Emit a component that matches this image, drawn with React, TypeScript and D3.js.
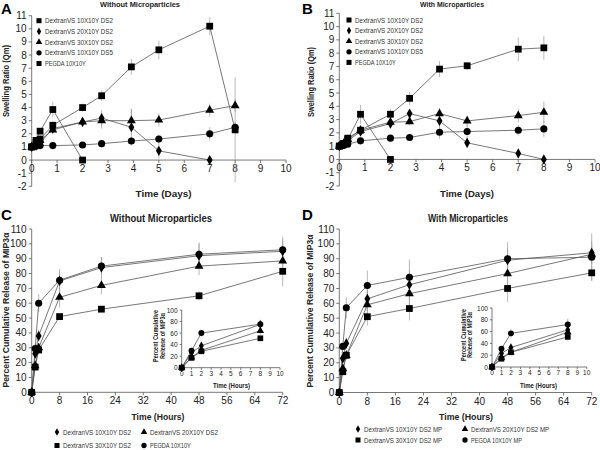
import React from "react";
import * as d3 from "d3";

// ---- swelling data (days) ----
const days = [0, 0.17, 0.33, 0.83, 2, 2.75, 3.92, 5, 7, 8];
const daysPeg = [0, 0.17, 0.33, 0.83, 2];

const swellLegend = [
  "DextranVS 10X10Y DS2",
  "DextranVS 20X10Y DS2",
  "DextranVS 30X10Y DS2",
  "DextranVS 10X10Y DS5",
  "PEGDA 10X10Y",
];

// panel A - without microparticles
const aDs2x10 = [1, 1.3, 1.6, 2.65, 4, 4.9, 7.1, 8.4, 10.2, 2.3];
const aDs2x10Err = [0, 0.1, 0.2, 0.3, 0.3, 0.4, 0.6, 0.7, 0.7, 4];
const aDs2x20 = [1, 1.1, 1.3, 2.4, 2.9, 3.2, 2.5, 0.7, 0];
const aDs2x20Err = [0, 0.1, 0.1, 0.3, 0.4, 0.6, 1.4, 0.6, 0];
const aDs2x30 = [1, 1.2, 1.5, 2.3, 2.9, 3, 3, 3.05, 3.8, 4.15];
const aDs2x30Err = [0, 0.1, 0.1, 0.3, 0.3, 0.6, 0.9, 0.5, 0.5, 0.5];
const aDs5x10 = [1, 1.05, 1.1, 1.1, 1.15, 1.25, 1.45, 1.6, 2, 2.5];
const aDs5x10Err = [0, 0, 0.1, 0.1, 0.1, 0.1, 0.2, 0.3, 0.5, 0.4];
const aPeg = [1, 1.5, 2.2, 3.85, 0];
const aPegErr = [0, 0.1, 0.2, 0.6, 0];

// panel B - with microparticles
const bDs2x10 = [1, 1.2, 1.6, 2.2, 3.4, 4.6, 6.8, 7.05, 8.3, 8.4];
const bDs2x10Err = [0, 0.1, 0.2, 0.3, 0.4, 0.5, 0.6, 0.3, 0.9, 0.9];
const bDs2x20 = [1, 1.15, 1.4, 2.1, 2.7, 3.45, 2.9, 1.25, 0.45, 0];
const bDs2x20Err = [0, 0.1, 0.2, 0.3, 0.3, 0.3, 0.5, 0.4, 0.3, 0];
const bDs2x30 = [1, 1.2, 1.5, 2.2, 2.8, 2.85, 3.45, 2.9, 3.3, 3.55];
const bDs2x30Err = [0, 0.1, 0.2, 0.3, 0.3, 0.3, 0.4, 0.4, 0.5, 0.8];
const bDs5x10 = [1, 1.05, 1.15, 1.4, 1.6, 1.65, 2.05, 2.1, 2.2, 2.3];
const bDs5x10Err = [0, 0, 0.1, 0.1, 0.1, 0.1, 0.5, 0.6, 0.4, 0.6];
const bPeg = [1, 1.2, 1.5, 3.4, 0];
const bPegErr = [0, 0.1, 0.2, 0.7, 0];

const dayTicks = d3.range(0, 11);
const swellTicks = d3.range(-2, 12);

// ---- release data (hours) ----
const hours = [0, 1, 2, 8, 20, 48, 72];
const hourTicks = d3.range(0, 73, 8);
const releaseTicks = d3.range(0, 111, 10);
const insetHours = [0, 1, 2, 8];
const insetXTicks = d3.range(0, 11);
const insetYTicks = d3.range(0, 101, 20);

const cLegend = [
  "DextranVS 10X10Y DS2",
  "DextranVS 20X10Y DS2",
  "DextranVS 30X10Y DS2",
  "PEGDA 10X10Y",
];
const dLegend = [
  "DextranVS 10X10Y DS2 MP",
  "DextranVS 20X10Y DS2 MP",
  "DextranVS 30X10Y DS2 MP",
  "PEGDA 10X10Y MP",
];

const cDs2x10 = [0, 26, 38, 75, 84, 92, 95];
const cDs2x10Err = [0, 2, 4, 8, 7, 8, 8];
const cDs2x20 = [0, 18, 30, 64, 72, 85, 88.5];
const cDs2x20Err = [0, 2, 3, 7, 6, 6, 4];
const cDs2x30 = [0, 17, 28.5, 51, 56, 65, 81.5];
const cDs2x30Err = [0, 2, 3, 2, 2, 3, 10];
const cPeg = [0, 29.5, 60, 75.5, 85, 93, 96];
const cPegErr = [0, 3, 6, 6, 6, 8, 9];

const dDs2x10 = [0, 23, 33, 63, 72.5, 89, 94];
const dDs2x10Err = [0, 3, 4, 8, 10, 8, 8];
const dDs2x20 = [0, 16, 25, 59, 66.5, 80, 93];
const dDs2x20Err = [0, 2, 3, 9, 10, 8, 6];
const dDs2x30 = [0, 14, 25, 51, 56.5, 70, 80.5];
const dDs2x30Err = [0, 2, 3, 6, 8, 9, 5];
const dPeg = [0, 31, 57, 72, 77.5, 90, 91];
const dPegErr = [0, 2, 7, 10, 12, 11, 16];

type Shape = "square" | "diamond" | "triangle" | "circle";
type Series = { x: number[]; y: number[]; err?: number[]; shape: Shape };

const symbolType = {
  square: d3.symbolSquare,
  diamond: d3.symbolDiamond,
  triangle: d3.symbolTriangle,
  circle: d3.symbolCircle,
};

const FONT = "Liberation Sans, Arial, sans-serif";

function marker(shape: Shape, scale = 1) {
  const size = { square: 46, diamond: 30, triangle: 34, circle: 40 }[shape] * scale;
  return d3.symbol().type(symbolType[shape]).size(size)()!;
}

function Panel(props: {
  xRange: [number, number];
  yRange: [number, number];
  xDomain: [number, number];
  yDomain: [number, number];
  xTicks: number[];
  yTicks: number[];
  series: Series[];
  fs: number;
  xAxisAt?: number;
  ms?: number;
}) {
  const { xRange, yRange, xDomain, yDomain, xTicks, yTicks, series, fs } = props;
  const ms = props.ms ?? 1;
  const x = d3.scaleLinear().domain(xDomain).range(xRange);
  const y = d3.scaleLinear().domain(yDomain).range(yRange);
  const axisY = y(props.xAxisAt ?? yDomain[0]);
  const line = d3
    .line<[number, number]>()
    .x((d) => x(d[0]))
    .y((d) => y(d[1]));
  const tl = 3 * ms;
  return (
    <g fontFamily={FONT}>
      {/* y axis */}
      <line x1={xRange[0]} x2={xRange[0]} y1={y(yDomain[0])} y2={y(yDomain[1])} stroke="#555" strokeWidth={0.8} />
      {yTicks.map((t) => (
        <g key={"y" + t}>
          <line x1={xRange[0] - tl} x2={xRange[0]} y1={y(t)} y2={y(t)} stroke="#555" strokeWidth={0.8} />
          <text x={xRange[0] - tl - 2} y={y(t)} fontSize={fs} textAnchor="end" dominantBaseline="central" fill="#222">
            {t}
          </text>
        </g>
      ))}
      {/* x axis */}
      <line x1={xRange[0]} x2={xRange[1]} y1={axisY} y2={axisY} stroke="#555" strokeWidth={0.8} />
      {xTicks.map((t) => (
        <g key={"x" + t}>
          <line x1={x(t)} x2={x(t)} y1={axisY} y2={axisY + tl} stroke="#555" strokeWidth={0.8} />
          <text x={x(t)} y={axisY + tl + fs * 0.9} fontSize={fs} textAnchor="middle" fill="#222">
            {t}
          </text>
        </g>
      ))}
      {/* error bars */}
      {series.map((s, i) =>
        s.err
          ? s.x.map((xv, j) =>
              s.err![j] > 0 ? (
                <line
                  key={`e${i}-${j}`}
                  x1={x(xv)}
                  x2={x(xv)}
                  y1={y(s.y[j] - s.err![j])}
                  y2={y(s.y[j] + s.err![j])}
                  stroke="#999"
                  strokeWidth={0.7}
                />
              ) : null
            )
          : null
      )}
      {series.map((s, i) => (
        <path
          key={"l" + i}
          d={line(s.x.map((xv, j) => [xv, s.y[j]] as [number, number]))!}
          fill="none"
          stroke="#555"
          strokeWidth={0.8}
        />
      ))}
      {series.map((s, i) =>
        s.x.map((xv, j) => (
          <path key={`m${i}-${j}`} d={marker(s.shape, ms)} transform={`translate(${x(xv)},${y(s.y[j])})`} fill="#000" />
        ))
      )}
    </g>
  );
}

function Legend(props: { items: string[]; shapes: Shape[]; pos: [number, number][]; fs: number }) {
  return (
    <g fontFamily={FONT}>
      {props.items.map((label, i) => (
        <g key={label} transform={`translate(${props.pos[i][0]},${props.pos[i][1]})`}>
          <path d={marker(props.shapes[i], 0.55)} fill="#000" />
          <text
            x={6}
            y={0}
            fontSize={props.fs}
            dominantBaseline="central"
            fill="#333"
            textLength={label.length * 3.4}
            lengthAdjust="spacingAndGlyphs"
          >
            {label}
          </text>
        </g>
      ))}
    </g>
  );
}

const swellShapes: Shape[] = ["square", "diamond", "triangle", "circle", "square"];
const relShapes: Shape[] = ["diamond", "triangle", "square", "circle"];

export default function App() {
  const aSeries: Series[] = [
    { x: days, y: aDs2x10, err: aDs2x10Err, shape: "square" },
    { x: days.slice(0, 9), y: aDs2x20, err: aDs2x20Err, shape: "diamond" },
    { x: days, y: aDs2x30, err: aDs2x30Err, shape: "triangle" },
    { x: days, y: aDs5x10, err: aDs5x10Err, shape: "circle" },
    { x: daysPeg, y: aPeg, err: aPegErr, shape: "square" },
  ];
  const bSeries: Series[] = [
    { x: days, y: bDs2x10, err: bDs2x10Err, shape: "square" },
    { x: days, y: bDs2x20, err: bDs2x20Err, shape: "diamond" },
    { x: days, y: bDs2x30, err: bDs2x30Err, shape: "triangle" },
    { x: days, y: bDs5x10, err: bDs5x10Err, shape: "circle" },
    { x: daysPeg, y: bPeg, err: bPegErr, shape: "square" },
  ];
  const cSeries: Series[] = [
    { x: hours, y: cDs2x10, err: cDs2x10Err, shape: "diamond" },
    { x: hours, y: cDs2x20, err: cDs2x20Err, shape: "triangle" },
    { x: hours, y: cDs2x30, err: cDs2x30Err, shape: "square" },
    { x: hours, y: cPeg, err: cPegErr, shape: "circle" },
  ];
  const dSeries: Series[] = [
    { x: hours, y: dDs2x10, err: dDs2x10Err, shape: "diamond" },
    { x: hours, y: dDs2x20, err: dDs2x20Err, shape: "triangle" },
    { x: hours, y: dDs2x30, err: dDs2x30Err, shape: "square" },
    { x: hours, y: dPeg, err: dPegErr, shape: "circle" },
  ];
  const inset = (s: Series[]) =>
    s.map((d) => ({ x: insetHours, y: d.y.slice(0, 4), err: d.err!.slice(0, 4), shape: d.shape }));

  // bold label, centred at (x, y), fitted to a given length
  const label = (x: number, y: number, t: string, fs: number, len: number, rot = false) => (
    <text
      transform={`translate(${x},${y})${rot ? " rotate(-90)" : ""}`}
      fontSize={fs}
      fontWeight="bold"
      textAnchor="middle"
      dominantBaseline="central"
      fontFamily={FONT}
      fill="#222"
      textLength={len}
      lengthAdjust="spacingAndGlyphs"
    >
      {t}
    </text>
  );
  const letter = (x: number, y: number, t: string) => (
    <text x={x} y={y} fontSize={15} fontWeight="bold" fontFamily={FONT} fill="#000">
      {t}
    </text>
  );

  return (
    <svg width={600} height={450} style={{ position: "absolute", left: 0, top: 0, background: "#fff" }}>
      {/* Panel A */}
      {letter(1, 14, "A")}
      {label(140, 4.5, "Without Microparticles", 8, 80)}
      <Panel
        xRange={[31.7, 286]}
        yRange={[186.3, 15.7]}
        xDomain={[0, 10]}
        yDomain={[-2, 11]}
        xTicks={dayTicks}
        yTicks={swellTicks}
        series={aSeries}
        fs={10}
        xAxisAt={0}
      />
      <Legend
        items={swellLegend}
        shapes={swellShapes}
        pos={swellLegend.map((_, i) => [39, 20.7 + i * 10.7] as [number, number])}
        fs={6.5}
      />
      {label(6, 81, "Swelling Ratio (Qm)", 9, 72, true)}
      {label(163.5, 193, "Time (Days)", 9.5, 56)}

      {/* Panel B */}
      {letter(302, 14, "B")}
      {label(452, 4.5, "With Microparticles", 8, 64)}
      <Panel
        xRange={[339.3, 595]}
        yRange={[186, 13.3]}
        xDomain={[0, 10]}
        yDomain={[-2, 11]}
        xTicks={dayTicks}
        yTicks={swellTicks}
        series={bSeries}
        fs={10}
        xAxisAt={0}
      />
      <Legend
        items={swellLegend}
        shapes={swellShapes}
        pos={swellLegend.map((_, i) => [349, 20 + i * 10.6] as [number, number])}
        fs={6.5}
      />
      {label(311, 82, "Swelling Ratio (Qm)", 9, 70, true)}
      {label(467, 193, "Time (Days)", 9.5, 54)}

      {/* Panel C */}
      {letter(1, 220, "C")}
      {label(161, 218, "Without Microparticles", 10, 102)}
      <Panel
        xRange={[31.7, 282.7]}
        yRange={[392.3, 229]}
        xDomain={[0, 72]}
        yDomain={[0, 110]}
        xTicks={hourTicks}
        yTicks={releaseTicks}
        series={cSeries}
        fs={10}
      />
      {label(6, 310, "Percent Cumulative Release of MIP3α", 9, 155, true)}
      {label(158, 416, "Time (Hours)", 9.5, 53)}
      <Panel
        xRange={[181.7, 280]}
        yRange={[367.7, 310]}
        xDomain={[0, 10]}
        yDomain={[0, 100]}
        xTicks={insetXTicks}
        yTicks={insetYTicks}
        series={inset(cSeries)}
        fs={6.5}
        ms={0.7}
      />
      {label(155.7, 336, "Percent Cumulative", 6.5, 52, true)}
      {label(162, 336, "Release of MIP3α", 6.5, 46, true)}
      {label(231.5, 385, "Time (Hours)", 6.5, 37)}
      <Legend
        items={cLegend}
        shapes={relShapes}
        pos={[[57, 432], [144, 432], [57, 445.5], [144, 445.5]]}
        fs={6.5}
      />

      {/* Panel D */}
      {letter(302, 220, "D")}
      {label(468, 218, "With Microparticles", 10, 80)}
      <Panel
        xRange={[339.3, 591.7]}
        yRange={[392.5, 229]}
        xDomain={[0, 72]}
        yDomain={[0, 110]}
        xTicks={hourTicks}
        yTicks={releaseTicks}
        series={dSeries}
        fs={10}
      />
      {label(310, 311, "Percent Cumulative Release of MIP3α", 9, 153, true)}
      {label(466, 416, "Time (Hours)", 9.5, 54)}
      <Panel
        xRange={[492, 586.7]}
        yRange={[367, 308]}
        xDomain={[0, 10]}
        yDomain={[0, 100]}
        xTicks={insetXTicks}
        yTicks={insetYTicks}
        series={inset(dSeries)}
        fs={6.5}
        ms={0.7}
      />
      {label(463.3, 335, "Percent Cumulative", 6.5, 52, true)}
      {label(469.6, 335, "Release of MIP3α", 6.5, 46, true)}
      {label(538.5, 385, "Time (Hours)", 6.5, 37)}
      <Legend
        items={dLegend}
        shapes={relShapes}
        pos={[[358, 429], [465, 429], [358, 440], [465, 440]]}
        fs={6.5}
      />
    </svg>
  );
}
